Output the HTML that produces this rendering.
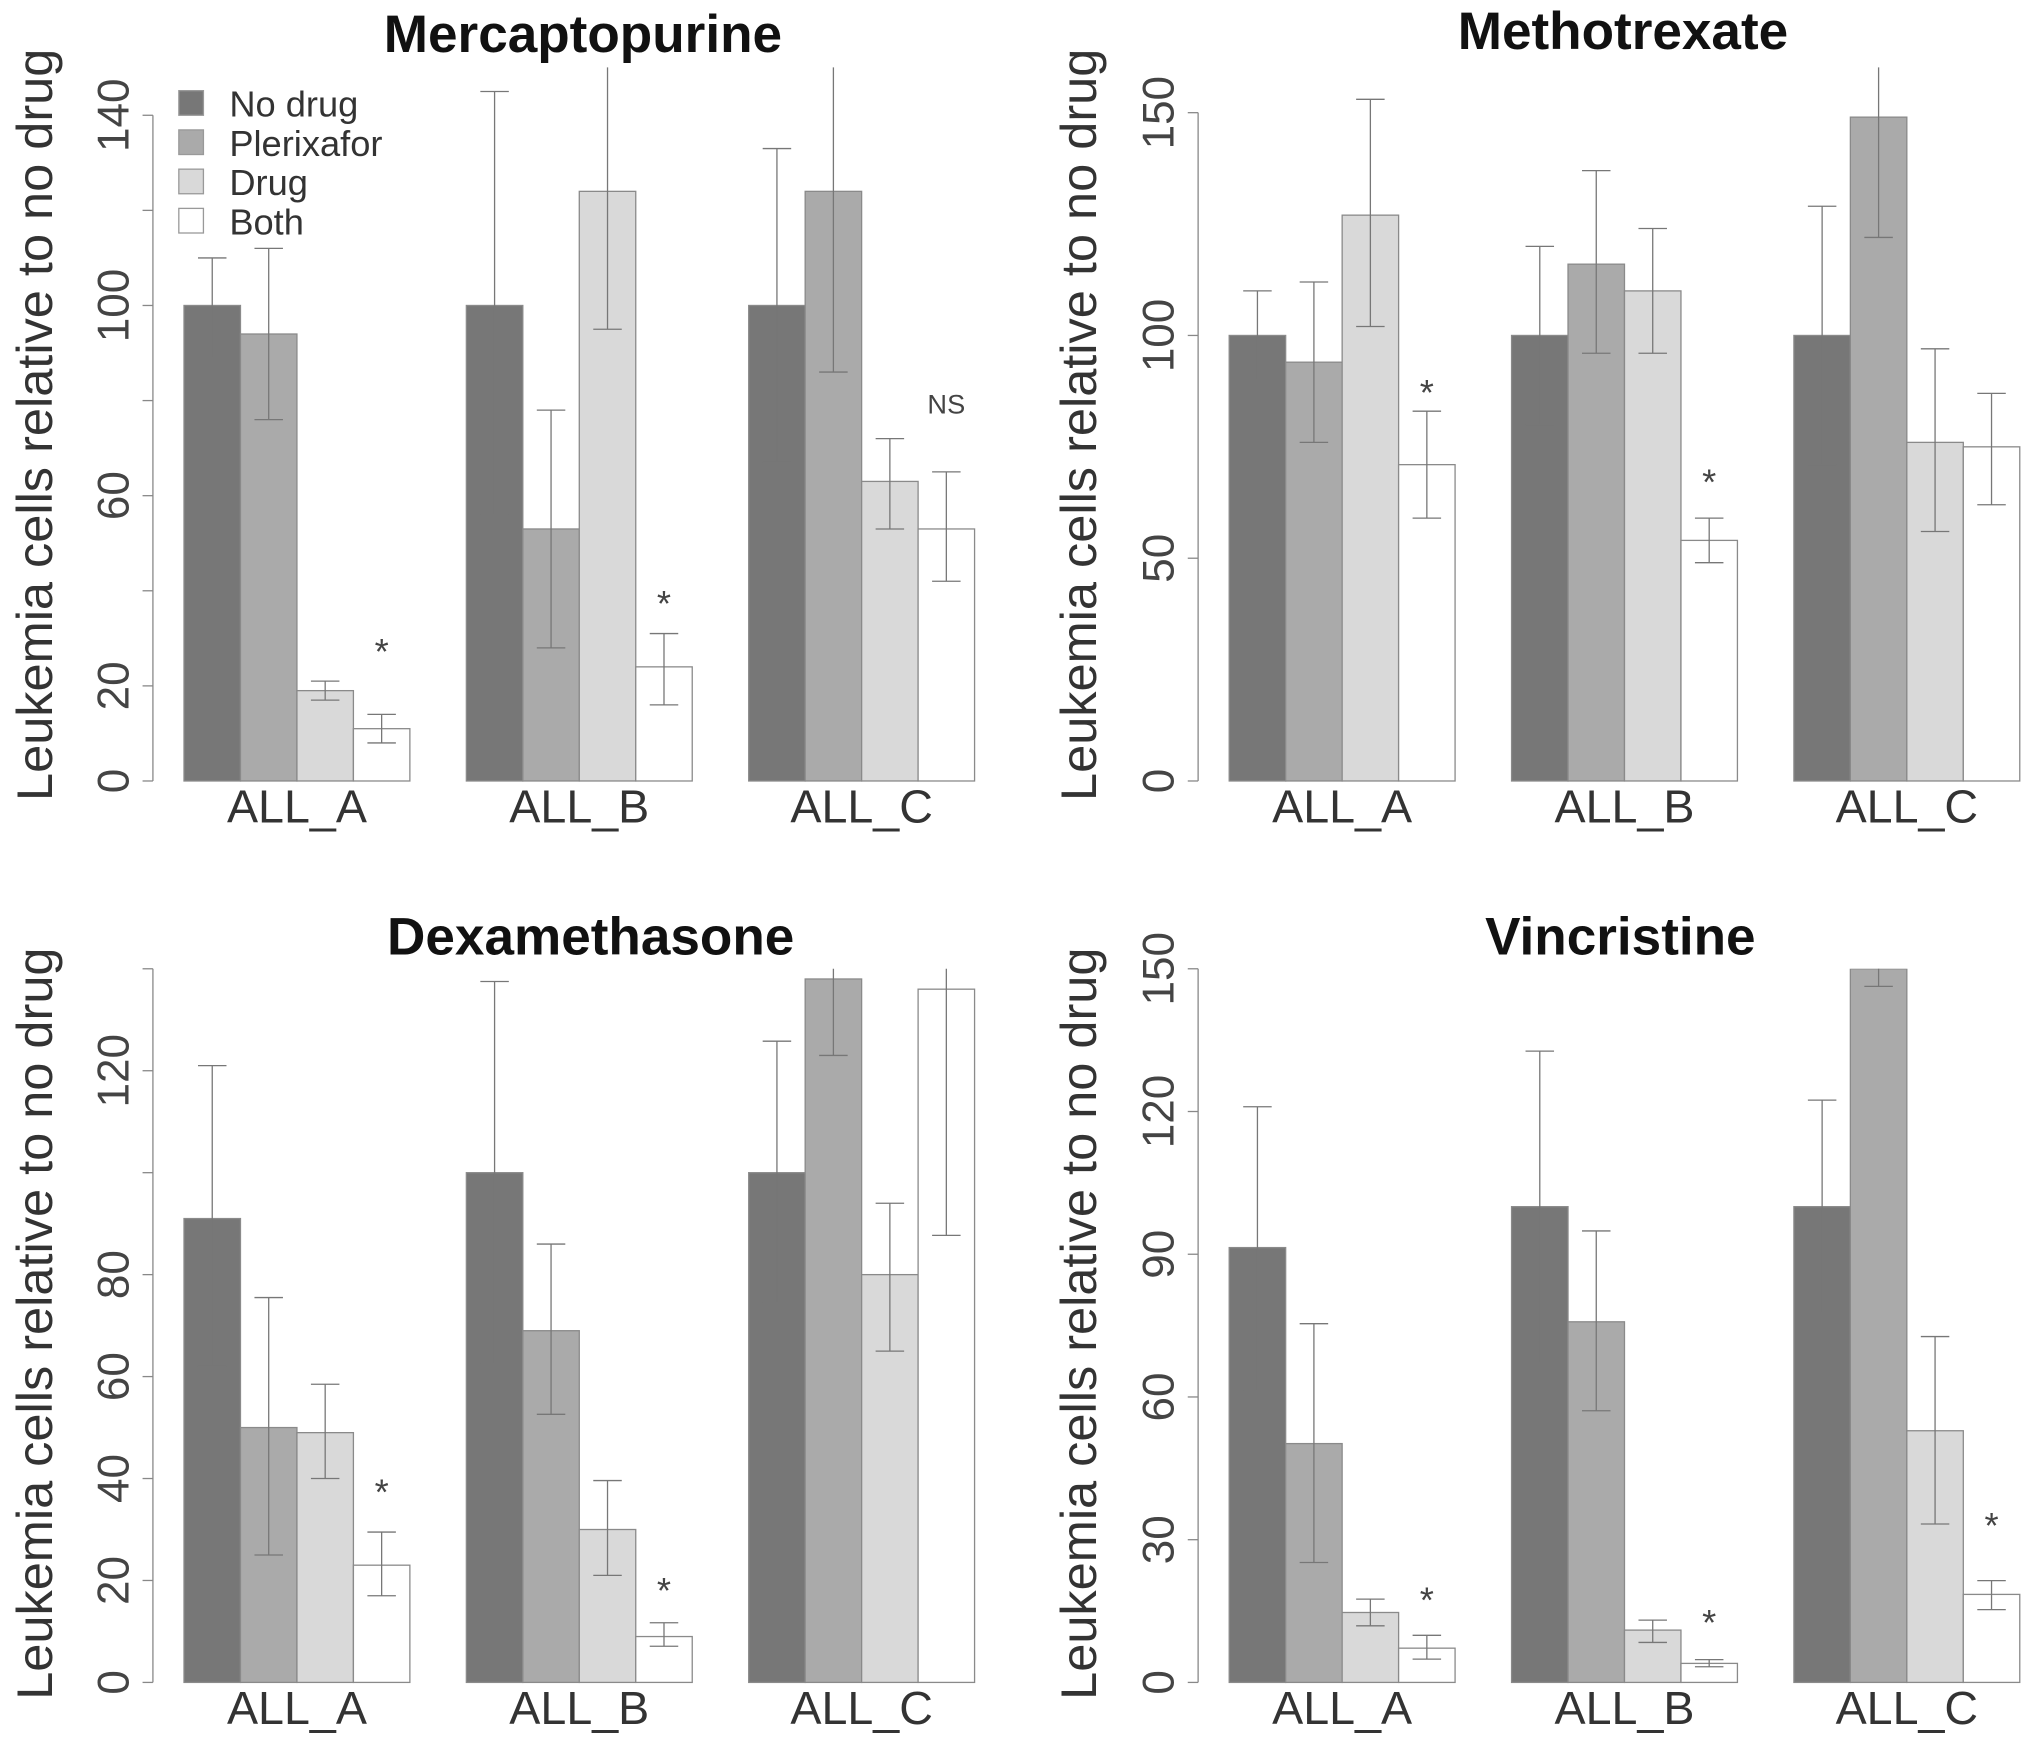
<!DOCTYPE html>
<html><head><meta charset="utf-8"><style>
html,body{margin:0;padding:0;background:#fff}
svg{display:block}
text{font-family:"Liberation Sans",Arial,sans-serif}
</style></head><body>
<svg id="chart" xmlns="http://www.w3.org/2000/svg" width="2031" height="1742" viewBox="0 0 1568 1345"></svg>
<script>
const categories = ["ALL_A","ALL_B","ALL_C"];
const seriesNames = ["No drug","Plerixafor","Drug","Both"];
const panelTitles = ["Mercaptopurine","Methotrexate","Dexamethasone","Vincristine"];
const mercValues = [[100,94,19,11],[100,53,124,24],[100,124,63,53]];
const mercLo = [[89,76,17,8],[56,28,95,16],[67,86,53,42]];
const mercHi = [[110,112,21,14],[145,78,160,31],[133,160,72,65]];
const metValues = [[100,94,127,71],[100,116,110,54],[100,149,76,75]];
const metLo = [[90,76,102,59],[80,96,96,49],[71,122,56,62]];
const metHi = [[110,112,153,83],[120,137,124,59],[129,170,97,87]];
const dexValues = [[91,50,49,23],[100,69,30,9],[100,138,80,136]];
const dexLo = [[62,25,40,17],[62.5,52.6,21,7.1],[74.5,123,65,87.7]];
const dexHi = [[121,75.5,58.5,29.5],[137.5,86,39.6,11.7],[125.8,150,94,150]];
const vinValues = [[91.4,50.2,14.7,7.2],[100,75.8,11,4],[100,150,52.9,18.5]];
const vinLo = [[61.3,25.2,11.9,4.9],[67.2,57.1,8.4,3.3],[77.7,146.3,33.3,15.3]];
const vinHi = [[121,75.4,17.5,9.9],[132.7,94.9,13.1,4.8],[122.4,160,72.7,21.4]];
const mercTicks = [0,20,40,60,80,100,120,140];
const mercTickLabels = ["0","20","","60","","100","","140"];
const metTicks = [0,50,100,150];
const metTickLabels = ["0","50","100","150"];
const dexTicks = [0,20,40,60,80,100,120,140];
const dexTickLabels = ["0","20","40","60","80","","120",""];
const vinTicks = [0,30,60,90,120,150];
const vinTickLabels = ["0","30","60","90","120","150"];
const mercNotes = [[0,"*",29],[1,"*",39],[2,"NS",79.5]];
const metNotes = [[0,"*",89],[1,"*",69]];
const dexNotes = [[0,"*",39],[1,"*",19.6]];
const vinNotes = [[0,"*",19],[1,"*",14.3],[2,"*",34.7]];

const colors = ["#777777","#aaaaaa","#d9d9d9","#ffffff"];
const NS = "http://www.w3.org/2000/svg";
const svg = document.getElementById("chart");
function mk(tag, attrs, parent){const e=document.createElementNS(NS,tag);for(const k in attrs)e.setAttribute(k,attrs[k]);(parent||svg).appendChild(e);return e;}

const layouts = [
 {ax:118, y0:603, yTop:89, max:140, clipTop:52, titleX:450, titleY:40, yTitleX:40, yTitleY:328, vals:mercValues, lo:mercLo, hi:mercHi, ticks:mercTicks, tl:mercTickLabels, notes:mercNotes, legend:true},
 {ax:925, y0:603, yTop:87, max:150, clipTop:52, titleX:1253, titleY:38, yTitleX:846, yTitleY:328, vals:metValues, lo:metLo, hi:metHi, ticks:metTicks, tl:metTickLabels, notes:metNotes},
 {ax:118, y0:1299, yTop:748, max:140, clipTop:748, titleX:456, titleY:737, yTitleX:40, yTitleY:1022, vals:dexValues, lo:dexLo, hi:dexHi, ticks:dexTicks, tl:dexTickLabels, notes:dexNotes},
 {ax:925, y0:1299, yTop:748, max:150, clipTop:748, titleX:1251, titleY:737, yTitleX:846, yTitleY:1022, vals:vinValues, lo:vinLo, hi:vinHi, ticks:vinTicks, tl:vinTickLabels, notes:vinNotes}
];
const BW = 43.6;

layouts.forEach((L, p) => {
  const g = mk("g", {});
  
  
  const yScale = v => L.y0 - (v / L.max) * (L.y0 - L.yTop);
  const xStart = L.ax + 24;
  const xBar = (c, s) => xStart + c * 5 * BW + s * BW;
  const cid = "clip" + p;
  const cp = mk("clipPath", {id: cid}, g);
  mk("rect", {x: L.ax, y: L.clipTop, width: 700, height: L.y0 - L.clipTop + 2}, cp);
  const t = mk("text", {x: L.titleX, y: L.titleY, "text-anchor": "middle", "font-size": 41, "font-weight": "bold", fill: "#111"}, g);
  t.textContent = panelTitles[p];
  
  
  const midY = L.yTitleY;
  const yt = mk("text", {x: L.yTitleX, y: midY, "text-anchor": "middle", "font-size": 39, fill: "#333", transform: `rotate(-90 ${L.yTitleX} ${midY})`}, g);
  yt.textContent = "Leukemia cells relative to no drug";
  
  
  const axl = mk("line", {x1: L.ax, x2: L.ax, y1: L.y0, y2: L.yTop, stroke: "#888", "stroke-width": 1}, g);
  
  
  L.ticks.forEach((tv, i) => {
    const y = yScale(tv);
    const tk = mk("line", {x1: L.ax - 8, x2: L.ax, y1: y, y2: y, stroke: "#888", "stroke-width": 1}, g);
    
    
    if (L.tl[i]) {
      const tx = mk("text", {x: L.ax - 19, y: y, "text-anchor": "middle", "font-size": 34, fill: "#444", transform: `rotate(-90 ${L.ax - 19} ${y})`}, g);
      tx.textContent = L.tl[i];
      
      
    }
  });
  const bg = mk("g", {"clip-path": `url(#${cid})`}, g);
  categories.forEach((cat, c) => {
    seriesNames.forEach((sn, s) => {
      const v = L.vals[c][s];
      const x = xBar(c, s);
      const y = yScale(v);
      const r = mk("rect", {x: x, y: y, width: BW, height: L.y0 - y, fill: colors[s], stroke: "#8a8a8a", "stroke-width": 1}, bg);
      
      
    });
    seriesNames.forEach((sn, s) => {
      const cx = xBar(c, s) + BW / 2;
      const yl = yScale(L.lo[c][s]), yh = yScale(L.hi[c][s]);
      const e = mk("g", {stroke: "#777", "stroke-width": 1}, bg);
      
      
      mk("line", {x1: cx, x2: cx, y1: yl, y2: yh}, e);
      mk("line", {x1: cx - 11, x2: cx + 11, y1: yl, y2: yl}, e);
      mk("line", {x1: cx - 11, x2: cx + 11, y1: yh, y2: yh}, e);
    });
    const cl = mk("text", {x: xBar(c, 2), y: L.y0 + 32, "text-anchor": "middle", "font-size": 36, fill: "#333"}, g);
    cl.textContent = cat;
    
    
  });
  L.notes.forEach(n => {
    const x = xBar(n[0], 3) + BW / 2;
    const big = n[1] === "*";
    const a = mk("text", {x: x, y: yScale(n[2]) + (big ? 16 : 8), "text-anchor": "middle", "font-size": big ? 28 : 21, fill: "#444"}, g);
    a.textContent = n[1];
    
    
  });
  if (L.legend) {
    const lg = mk("g", {}, g);
    
    
    seriesNames.forEach((sn, s) => {
      const y = 80 + s * 30.3;
      const e = mk("g", {}, lg);
      
      
      mk("rect", {x: 138, y: y - 10, width: 19, height: 19, fill: colors[s], stroke: "#999", "stroke-width": 1}, e);
      const tx = mk("text", {x: 177, y: y + 10, "font-size": 28, fill: "#333"}, e);
      tx.textContent = sn;
    });
  }
});
</script>
</body></html>
